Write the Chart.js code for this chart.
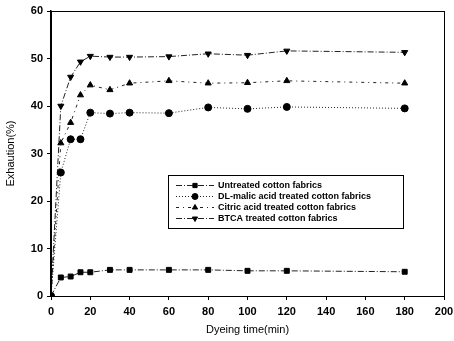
<!DOCTYPE html>
<html><head><meta charset="utf-8">
<script src="https://cdn.jsdelivr.net/npm/chart.js@4"></script>
<style>html,body{margin:0;padding:0;background:#fff}#c{display:block}</style>
</head><body>
<div style="width:454px;height:341px"><canvas id="c" width="454" height="341"></canvas></div>
<script>
const times = [0, 5, 10, 15, 20, 30, 40, 60, 80, 100, 120, 180];
const untreated = [0, 3.9, 4.1, 5.0, 5.0, 5.5, 5.5, 5.5, 5.5, 5.3, 5.3, 5.1];
const dlMalic = [0, 26.0, 33.0, 33.0, 38.6, 38.4, 38.6, 38.5, 39.7, 39.4, 39.8, 39.5];
const citric = [0, 32.2, 36.5, 42.3, 44.4, 43.4, 44.8, 45.3, 44.8, 44.9, 45.3, 44.8];
const btca = [0, 40.0, 46.1, 49.3, 50.5, 50.3, 50.3, 50.4, 51.0, 50.7, 51.6, 51.3];
const seriesLabels = ["Untreated cotton fabrics", "DL-malic acid treated cotton fabrics", "Citric acid treated cotton fabrics", "BTCA treated cotton fabrics"];
const xTicks = [0, 20, 40, 60, 80, 100, 120, 140, 160, 180, 200];
const yTicks = [0, 10, 20, 30, 40, 50, 60];

const FONT = "'Liberation Sans', Arial, sans-serif";
function pts(v){ return times.map((t,i)=>({x:t,y:v[i]})); }
const mk = (label, data, style, rot, dash) => ({
  label, data: pts(data), borderColor:'#222', backgroundColor:'#000', borderWidth:1,
  borderDash: dash, pointStyle: style, rotation: rot, pointRadius: 3.5,
  pointBorderColor:'#000', pointBackgroundColor:'#000', pointBorderWidth:1, tension:0, fill:false
});
const datasets = [
  mk(seriesLabels[0], untreated, 'rect', 0, [6,2,1,2]),
  mk(seriesLabels[1], dlMalic, 'circle', 0, [1,2]),
  mk(seriesLabels[2], citric, 'triangle', 0, [3,4,1,4]),
  mk(seriesLabels[3], btca, 'triangle', 180, [6,2,1,2])
];

const boxLegend = {
  id:'boxLegend',
  afterDraw(chart){
    const ctx = chart.ctx, a = chart.chartArea;
    ctx.save();
    ctx.strokeStyle = '#000'; ctx.lineWidth = 1;
    ctx.strokeRect(a.left+0.5, a.top+0.5, a.right-a.left, a.bottom-a.top);
    const lx = 168, ly = 175, lw = 235, lh = 53;
    ctx.fillStyle='#fff';
    ctx.fillRect(lx, ly, lw, lh);
    ctx.strokeStyle='#000'; ctx.lineWidth=1;
    ctx.strokeRect(lx+0.5, ly+0.5, lw, lh);
    ctx.font = "bold 9px " + FONT;
    ctx.textBaseline='middle';
    chart.data.datasets.forEach((ds,i)=>{
      const y = ly + 10.5 + i*11;
      ctx.strokeStyle = ds.borderColor; ctx.lineWidth=1;
      ctx.setLineDash(ds.borderDash);
      ctx.beginPath(); ctx.moveTo(176, y); ctx.lineTo(214, y); ctx.stroke();
      ctx.setLineDash([]);
      ctx.fillStyle='#000'; ctx.strokeStyle='#000';
      Chart.helpers.drawPoint(ctx, {pointStyle: ds.pointStyle, rotation: ds.rotation, radius: 3, borderWidth:1}, 195, y);
      ctx.fillStyle='#000';
      ctx.fillText(ds.label, 218, y+0.5);
    });
    ctx.restore();
  }
};

new Chart(document.getElementById('c'), {
  type:'line',
  data:{ datasets },
  options:{
    responsive:false, animation:false,
    layout:{ padding:{ top:11, right:10, left:0, bottom:0 } },
    plugins:{ legend:{display:false}, tooltip:{enabled:false} },
    scales:{
      x:{
        type:'linear', min:0, max:200,
        afterBuildTicks(s){ s.ticks = xTicks.map(v=>({value:v})); },
        afterFit(s){ s.height = 45; s.paddingRight = 0; s.paddingLeft = 0; },
        border:{display:true, color:'#000', width:1},
        grid:{ drawOnChartArea:false, drawTicks:true, tickLength:4, color:'#000' },
        ticks:{ color:'#000', font:{family:FONT, size:11, weight:'bold'}, padding:5, maxRotation:0 },
        title:{ display:true, text:'Dyeing time(min)', color:'#000', font:{family:FONT, size:11}, padding:{top:3} }
      },
      y:{
        type:'linear', min:0, max:60,
        afterBuildTicks(s){ s.ticks = yTicks.map(v=>({value:v})); },
        afterFit(s){ s.width = 51; s.paddingTop = 0; s.paddingBottom = 0; },
        border:{display:true, color:'#000', width:1.5},
        grid:{ drawOnChartArea:false, drawTicks:true, tickLength:4, color:'#000' },
        ticks:{ color:'#000', font:{family:FONT, size:11, weight:'bold'}, padding:4 },
        title:{ display:true, text:'Exhaution(%)', color:'#000', font:{family:FONT, size:11}, padding:{bottom:2} }
      }
    }
  },
  plugins:[boxLegend]
});
</script>
</body></html>
